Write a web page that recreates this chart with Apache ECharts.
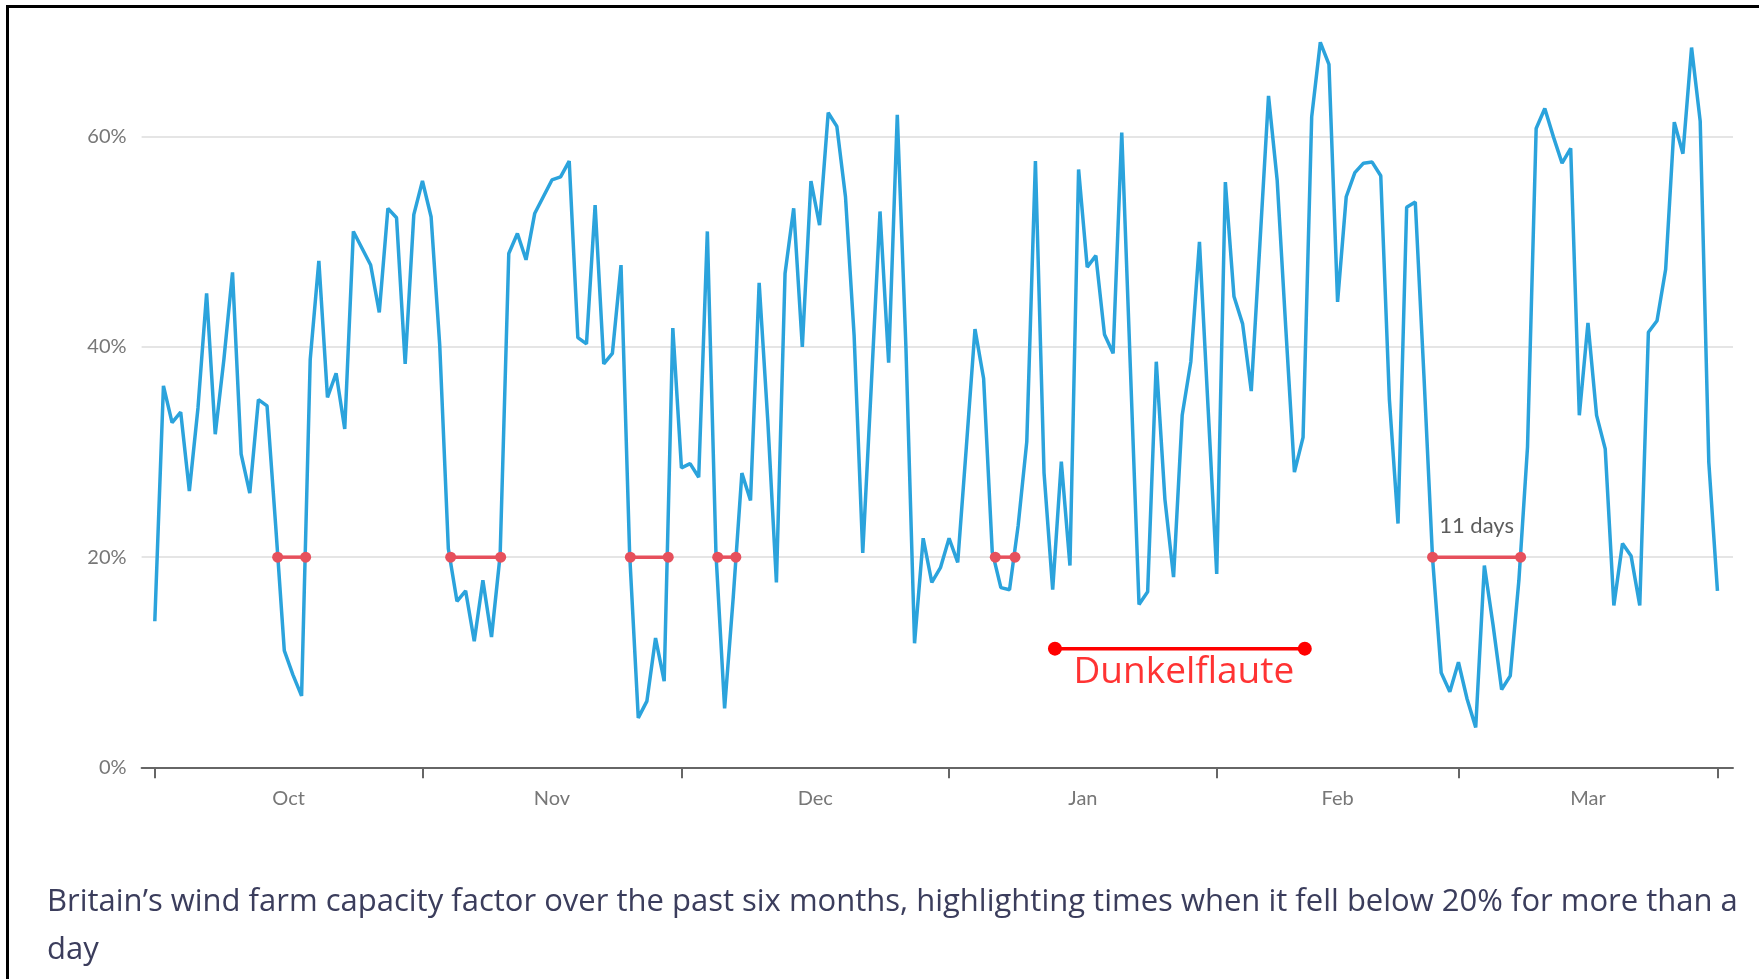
<!DOCTYPE html>
<html>
<head>
<meta charset="utf-8">
<script src="https://cdn.jsdelivr.net/npm/echarts@6/dist/echarts.min.js"></script>
<style>
html,body{margin:0;padding:0;background:#fff;}
#chart{width:1759px;height:979px;}
</style>
</head>
<body>
<div id="chart"></div>
<script>
// ---- data (daily capacity factor, %, day 0 = 1 Oct) ----
const capacityFactor = [
  13.9,36.3,32.8,33.8,26.3,34.2,45.1,31.7,38.8,47.1,
  29.8,26.1,35.0,34.4,23.0,11.1,8.8,6.8,38.8,48.2,
  35.2,37.5,32.2,51.0,49.4,47.8,43.3,53.2,52.3,38.4,
  52.6,55.8,52.4,40.2,20.8,15.8,16.8,12.0,17.8,12.4,
  20.2,48.9,50.8,48.3,52.7,54.3,55.9,56.2,57.7,40.9,
  40.3,53.5,38.4,39.4,47.8,20.3,4.7,6.3,12.3,8.2,
  41.8,28.5,28.9,27.6,51.0,20.3,5.6,16.2,28.0,25.4,
  46.1,33.0,17.6,47.0,53.2,40.0,55.8,51.6,62.3,61.0,
  54.3,41.1,20.4,36.5,52.9,38.5,62.1,40.0,11.8,21.8,
  17.6,19.0,21.8,19.5,30.5,41.7,37.0,20.5,17.1,16.9,
  23.0,31.0,57.7,28.0,16.9,29.1,19.2,56.9,47.6,48.7,
  41.2,39.4,60.4,38.0,15.5,16.7,38.6,25.5,18.1,33.5,
  38.6,50.0,34.2,18.4,55.7,44.8,42.2,35.8,49.8,63.9,
  55.9,41.8,28.1,31.4,61.9,69.0,66.9,44.3,54.3,56.6,
  57.5,57.6,56.3,35.0,23.2,53.3,53.8,37.3,19.9,9.0,
  7.2,10.0,6.5,3.8,19.2,13.6,7.4,8.7,17.8,30.5,
  60.8,62.7,60.0,57.5,58.9,33.5,42.3,33.5,30.3,15.4,
  21.3,20.1,15.4,41.4,42.5,47.4,61.4,58.4,68.5,61.5,
  29.0,16.8
];
const monthLabels = ['Oct','Nov','Dec','Jan','Feb','Mar'];
const monthTickDays = [0,31,61,92,123,151,181];
const yTickValues = [0,20,40,60];
const threshold = 20;
// periods below 20% for more than a day: [startDay, endDay]
const lowSpans = [[14.23,17.47],[34.27,40.06],[55.08,59.47],[65.2,67.3],[97.35,99.63],[148.0,158.2]];
const lowSpanLabels = ['','','','','','11 days'];
// Dunkelflaute annotation: [startDay, endDay], level
const dunkelSpan = [104.26,133.2];
const dunkelLevel = 11.29;
const dunkelText = 'Dunkelflaute';
const caption = "Britain\u2019s wind farm capacity factor over the past six months, highlighting times when it fell below 20% for more than a\nday";

// ---- derived ----
const labelDays = monthTickDays.slice(0,-1).map((d,i)=> (d + monthTickDays[i+1]) / 2);
const lineData = capacityFactor.map((v,i)=>[i,v]);

const spanSeries = lowSpans.map((s,i)=>({
  type:'line',
  data:[[s[0],threshold],[s[1],threshold]],
  symbol:'circle', symbolSize:11, showSymbol:true,
  itemStyle:{color:'#e6505c'},
  lineStyle:{color:'#e6505c', width:3.5},
  z:4, silent:true, animation:false
}));
const spanLabelSeries = {
  type:'scatter', symbolSize:0, z:5, silent:true,
  data: lowSpans.map((s,i)=>({value:[(s[0]+s[1])/2, threshold], label:{show: !!lowSpanLabels[i], formatter: lowSpanLabels[i]}})),
  label:{position:'inside', offset:[0,-31], color:'#333', fontSize:22, fontFamily:'Lato'}
};

const chart = echarts.init(document.getElementById('chart'), null, {renderer:'canvas'});
chart.setOption({
  animation:false,
  backgroundColor:'#ffffff',
  title:{
    text: caption, left:47, top:878, padding:0,
    textStyle:{fontSize:31, lineHeight:48, fontWeight:'normal', color:'#3b3d5c', fontFamily:'Open Sans'}
  },
  grid:{left:141.6, right:26, top:31.8, bottom:211.7},
  xAxis:{
    type:'value', min:-1.53, max:182.8,
    axisLine:{show:true, onZero:false, lineStyle:{color:'#666', width:2}},
    axisTick:{show:true, customValues: monthTickDays, length:11, lineStyle:{color:'#666', width:2}},
    axisLabel:{customValues: labelDays, margin:21, color:'#777', fontSize:20, fontFamily:'Lato',
      formatter:(v)=>{ const i = labelDays.findIndex(d=>Math.abs(d-v)<0.01); return i>=0 ? monthLabels[i] : ''; }},
    splitLine:{show:false}
  },
  yAxis:{
    type:'value', min:0, max:70,
    axisLine:{show:false},
    axisTick:{show:false, customValues: yTickValues},
    axisLabel:{customValues: yTickValues, formatter:'{value}%', margin:15, color:'#777', fontSize:20, fontFamily:'Lato'},
    splitLine:{show:true, lineStyle:{color:'#dcdcdc', width:1.5}}
  },
  graphic:[{
    type:'polyline', silent:true,
    shape:{points:[[7.5,979],[7.5,6.5],[1759,6.5]]},
    style:{stroke:'#000', lineWidth:3, fill:null}
  }],
  series:[
    {
      type:'line', data:lineData, showSymbol:false, symbol:'none',
      lineStyle:{color:'#2ba3dc', width:3.5}, z:3, silent:true
    },
    ...spanSeries,
    spanLabelSeries,
    {
      type:'line', data:[[dunkelSpan[0],dunkelLevel],[dunkelSpan[1],dunkelLevel]],
      symbol:'circle', symbolSize:14, showSymbol:true,
      itemStyle:{color:'#ff0000'}, lineStyle:{color:'#ff0000', width:3.5}, z:6, silent:true
    },
    {
      type:'scatter', symbolSize:0, z:7, silent:true,
      data:[{value:[(dunkelSpan[0]+dunkelSpan[1])/2, dunkelLevel]}],
      label:{show:true, position:'inside', offset:[4,24], formatter:dunkelText, color:'#ff0000', fontSize:37, fontFamily:'Open Sans'}
    }
  ]
});
</script>
</body>
</html>
